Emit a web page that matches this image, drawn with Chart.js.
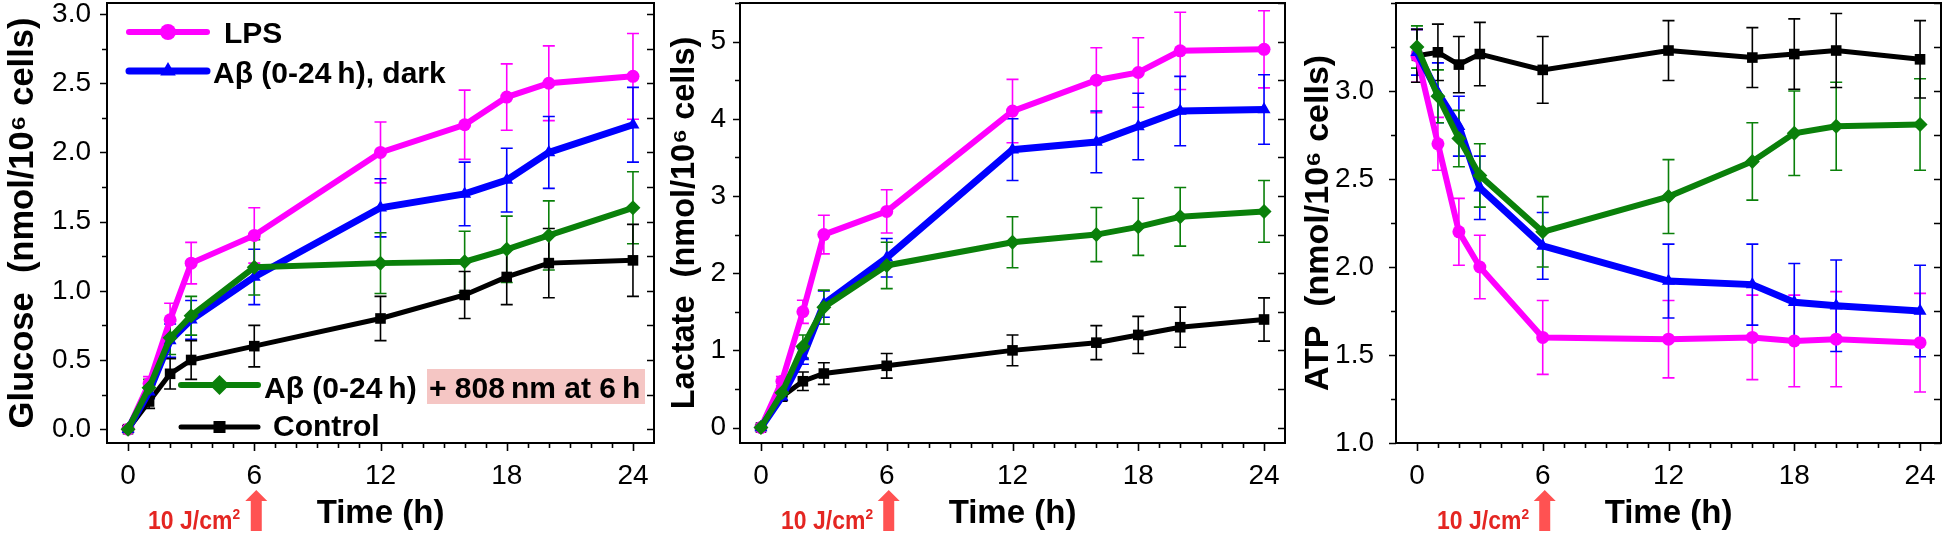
<!DOCTYPE html>
<html><head><meta charset="utf-8">
<script src="https://cdn.jsdelivr.net/npm/chart.js@4.4.1/dist/chart.umd.min.js"></script>
<style>
html,body{margin:0;padding:0;background:#fff;width:1943px;height:534px;overflow:hidden;font-family:'Liberation Sans',Arial,sans-serif;}
#wrap{position:relative;width:1943px;height:534px;}
.cv{position:absolute;top:0;height:534px;}
.cv canvas{display:block;}
.lab{position:absolute;white-space:nowrap;font-weight:bold;font-size:30px;line-height:30px;color:#000;}
.hl{position:absolute;background:rgb(245,198,196);}
.ann{position:absolute;top:507px;white-space:nowrap;font-family:'Liberation Sans',Arial,sans-serif;font-weight:bold;font-size:25px;line-height:26px;color:rgb(228,38,34);transform-origin:100% 50%;}
.ann sup{font-size:15px;vertical-align:10px;line-height:0;}
</style></head>
<body><div id="wrap">
<div class="cv" style="left:0;width:660px"><canvas id="c1" width="660" height="534"></canvas></div>
<div class="cv" style="left:660px;width:640px"><canvas id="c2" width="640" height="534"></canvas></div>
<div class="cv" style="left:1300px;width:643px"><canvas id="c3" width="643" height="534"></canvas></div>
<div class="hl" style="left:427px;top:369px;width:218px;height:35px"></div>
<div class="lab" style="left:224px;top:18px">LPS</div>
<div class="lab" style="left:213px;top:58px">Aβ (0-24&#8201;h), dark</div>
<div class="lab" style="left:264px;top:373px">Aβ (0-24&#8201;h)</div>
<div class="lab" style="left:429px;top:373px">+ 808&#8201;nm at 6&#8201;h</div>
<div class="lab" style="left:273px;top:411px">Control</div>
<div class="ann" id="a1">10 J/cm<sup>2</sup></div>
<div class="ann" id="a2">10 J/cm<sup>2</sup></div>
<div class="ann" id="a3">10 J/cm<sup>2</sup></div>
</div>
<script>
// ---------- data ----------
const hours = [0, 1, 2, 3, 6, 12, 16, 18, 20, 24];
const seriesNames = ['LPS', 'Aβ (0-24 h), dark', 'Aβ (0-24 h) + 808 nm at 6 h', 'Control'];
const xTickValues = [0, 6, 12, 18, 24];

const glucoseLPS      = [0, 0.33, 0.79, 1.2, 1.4, 2.0, 2.2, 2.4, 2.5, 2.55];
const glucoseLPSErr   = [0.02, 0.05, 0.12, 0.15, 0.2, 0.22, 0.25, 0.24, 0.27, 0.31];
const glucoseDark     = [0, 0.27, 0.64, 0.79, 1.1, 1.6, 1.7, 1.8, 2.0, 2.2];
const glucoseDarkErr  = [0.02, 0.05, 0.12, 0.14, 0.2, 0.21, 0.23, 0.23, 0.26, 0.27];
const glucoseNIR      = [0, 0.3, 0.66, 0.82, 1.17, 1.2, 1.21, 1.3, 1.4, 1.6];
const glucoseNIRErr   = [0.02, 0.06, 0.12, 0.14, 0.2, 0.22, 0.22, 0.24, 0.25, 0.26];
const glucoseCtrl     = [0, 0.2, 0.4, 0.5, 0.6, 0.8, 0.97, 1.1, 1.2, 1.22];
const glucoseCtrlErr  = [0.02, 0.05, 0.11, 0.14, 0.15, 0.16, 0.17, 0.2, 0.25, 0.26];
const glucoseTicks      = [0, 0.5, 1, 1.5, 2, 2.5, 3];
const glucoseTickLabels = ['0.0', '0.5', '1.0', '1.5', '2.0', '2.5', '3.0'];

const lactateLPS      = [0, 0.6, 1.5, 2.5, 2.8, 4.1, 4.5, 4.6, 4.88, 4.9];
const lactateLPSErr   = [0.03, 0.06, 0.15, 0.25, 0.28, 0.41, 0.42, 0.45, 0.5, 0.5];
const lactateDark     = [0, 0.4, 0.92, 1.6, 2.2, 3.6, 3.7, 3.9, 4.1, 4.12];
const lactateDarkErr  = [0.03, 0.05, 0.1, 0.17, 0.25, 0.4, 0.4, 0.43, 0.45, 0.45];
const lactateNIR      = [0, 0.45, 1.05, 1.56, 2.1, 2.4, 2.5, 2.6, 2.73, 2.8];
const lactateNIRErr   = [0.03, 0.05, 0.15, 0.22, 0.3, 0.33, 0.35, 0.37, 0.38, 0.4];
const lactateCtrl     = [0, 0.4, 0.6, 0.7, 0.8, 1.0, 1.1, 1.2, 1.3, 1.4];
const lactateCtrlErr  = [0.03, 0.05, 0.12, 0.14, 0.16, 0.2, 0.22, 0.24, 0.26, 0.28];
const lactateTicks      = [0, 1, 2, 3, 4, 5];
const lactateTickLabels = ['0', '1', '2', '3', '4', '5'];

const atpLPS      = [3.2, 2.7, 2.2, 2.0, 1.6, 1.59, 1.6, 1.58, 1.59, 1.57];
const atpLPSErr   = [0.15, 0.15, 0.19, 0.18, 0.21, 0.22, 0.24, 0.26, 0.27, 0.28];
const atpDark     = [3.22, 2.99, 2.8, 2.45, 2.12, 1.92, 1.9, 1.8, 1.78, 1.75];
const atpDarkErr  = [0.13, 0.17, 0.17, 0.18, 0.19, 0.21, 0.23, 0.22, 0.26, 0.26];
const atpNIR      = [3.25, 2.97, 2.73, 2.52, 2.2, 2.4, 2.6, 2.76, 2.8, 2.81];
const atpNIRErr   = [0.12, 0.15, 0.16, 0.18, 0.2, 0.21, 0.22, 0.24, 0.25, 0.26];
const atpCtrl     = [3.2, 3.22, 3.15, 3.21, 3.12, 3.23, 3.19, 3.21, 3.23, 3.18];
const atpCtrlErr  = [0.15, 0.16, 0.16, 0.18, 0.19, 0.17, 0.17, 0.2, 0.21, 0.22];
const atpTicks      = [1, 1.5, 2, 2.5, 3];
const atpTickLabels = ['1.0', '1.5', '2.0', '2.5', '3.0'];

// ---------- styles ----------
const FONT = "'Liberation Sans', Arial, sans-serif";
const seriesStyle = [
  {color: '#ff00ff', width: 6, point: 'circle', radius: 6.5, order: 2},
  {color: '#0000ff', width: 7, point: 'triangle', radius: 7.5, order: 1},
  {color: '#0a800a', width: 6, point: 'rectRot', radius: 7.5, order: 0},
  {color: '#000000', width: 5, point: 'rect', radius: 7.5, order: 3}
];
const annRight = {};

function drawMarker(ctx, type, x, y, r, color) {
  ctx.save(); ctx.fillStyle = color; ctx.beginPath();
  if (type === 'circle') ctx.arc(x, y, r, 0, Math.PI * 2);
  else if (type === 'triangle') { ctx.moveTo(x, y - r); ctx.lineTo(x + r * 0.866, y + r * 0.5); ctx.lineTo(x - r * 0.866, y + r * 0.5); ctx.closePath(); }
  else if (type === 'rectRot') { ctx.moveTo(x, y - r); ctx.lineTo(x + r, y); ctx.lineTo(x, y + r); ctx.lineTo(x - r, y); ctx.closePath(); }
  else { const s = r * 0.7071; ctx.rect(x - s, y - s, 2 * s, 2 * s); }
  ctx.fill(); ctx.restore();
}

function placeAnnotations() {
  Object.keys(annRight).forEach(id => {
    const el = document.getElementById(id);
    el.style.transform = 'none';
    el.style.left = '0px';
    const w = el.getBoundingClientRect().width;
    el.style.left = (annRight[id] - w) + 'px';
    el.style.transform = 'scaleX(' + (92 / w) + ')';
  });
}

const errPlugin = {
  id: 'errbars',
  beforeDatasetsDraw(chart) {
    const ctx = chart.ctx, xs = chart.scales.x, ys = chart.scales.y;
    ctx.save();
    chart.data.datasets.forEach(ds => {
      ctx.strokeStyle = ds.borderColor; ctx.lineWidth = 1.6;
      ds.data.forEach((p, j) => {
        const e = ds.errors[j];
        const px = xs.getPixelForValue(p.x);
        const yt = ys.getPixelForValue(p.y + e), yb = ys.getPixelForValue(p.y - e);
        ctx.beginPath();
        ctx.moveTo(px, yt); ctx.lineTo(px, yb);
        ctx.moveTo(px - 6, yt); ctx.lineTo(px + 6, yt);
        ctx.moveTo(px - 6, yb); ctx.lineTo(px + 6, yb);
        ctx.stroke();
      });
    });
    ctx.restore();
  }
};

const framePlugin = {
  id: 'frame',
  afterDraw(chart) {
    const o = chart.options.plugins.frame;
    const ctx = chart.ctx, a = chart.chartArea, xs = chart.scales.x, ys = chart.scales.y;
    ctx.save();
    ctx.strokeStyle = '#000'; ctx.lineWidth = 2;
    ctx.strokeRect(a.left, a.top, a.right - a.left, a.bottom - a.top);
    ctx.lineWidth = 1.6;
    ctx.beginPath();
    for (let h = 0; h <= 24; h++) {
      const px = Math.round(xs.getPixelForValue(h)) + 0.5;
      const len = (h % 6 === 0) ? 8 : 5;
      ctx.moveTo(px, a.bottom); ctx.lineTo(px, a.bottom + len);
    }
    for (let v = o.leftFrom; v <= ys.max + 1e-9; v += o.leftStep) {
      const py = Math.round(ys.getPixelForValue(v)) + 0.5;
      const major = o.ticks.some(t => Math.abs(t - v) < 1e-6);
      ctx.moveTo(a.left, py); ctx.lineTo(a.left - (major ? 7 : 5), py);
    }
    for (let v = o.leftFrom; v <= ys.max + 1e-9; v += o.rightStep) {
      const py = Math.round(ys.getPixelForValue(v)) + 0.5;
      ctx.moveTo(a.right, py); ctx.lineTo(a.right - 7, py);
    }
    ctx.stroke();
    // red arrow at 6 h
    const ax = xs.getPixelForValue(6) + 2;
    ctx.fillStyle = 'rgb(255,82,82)';
    ctx.beginPath();
    ctx.moveTo(ax, 490); ctx.lineTo(ax + 11, 501); ctx.lineTo(ax + 5.5, 501); ctx.lineTo(ax + 5.5, 531);
    ctx.lineTo(ax - 5.5, 531); ctx.lineTo(ax - 5.5, 501); ctx.lineTo(ax - 11, 501); ctx.closePath();
    ctx.fill();
    // legend symbols (first panel only)
    if (o.legend) {
      const rows = [[0, 129, 207, 32, 8], [1, 129, 207, 71, 9], [2, 181, 258, 385, 10], [3, 181, 258, 427, 8.5]];
      rows.forEach(([i, x0, x1, y, r]) => {
        const s = seriesStyle[i];
        ctx.strokeStyle = s.color; ctx.lineWidth = s.width; ctx.lineCap = 'round';
        ctx.beginPath(); ctx.moveTo(x0, y); ctx.lineTo(x1, y); ctx.stroke();
        drawMarker(ctx, s.point, (x0 + x1) / 2, y, r, s.color);
      });
    }
    ctx.restore();
    annRight[o.annId] = o.offsetX + ax - 16;
  }
};

function makePanel(cfg) {
  const datasets = cfg.series.map((vals, i) => {
    const s = seriesStyle[i];
    return {
      label: seriesNames[i],
      data: hours.map((h, j) => ({x: h, y: vals[j]})),
      errors: cfg.errors[i],
      borderColor: s.color, backgroundColor: s.color,
      borderWidth: s.width, pointStyle: s.point, pointRadius: s.radius,
      pointBorderWidth: 0, pointHoverRadius: s.radius,
      order: s.order, tension: 0, clip: false
    };
  });
  return new Chart(document.getElementById(cfg.id), {
    type: 'line',
    data: {datasets},
    plugins: [errPlugin, framePlugin],
    options: {
      responsive: false, animation: false, events: [],
      layout: {autoPadding: false, padding: {top: 3, right: cfg.padRight, left: 0, bottom: 0}},
      plugins: {
        legend: {display: false}, tooltip: {enabled: false},
        frame: {leftFrom: cfg.ticks[0], leftStep: cfg.leftStep, rightStep: cfg.rightStep, ticks: cfg.ticks,
                legend: cfg.legend, annId: cfg.annId, offsetX: cfg.offsetX}
      },
      scales: {
        x: {
          type: 'linear', min: -1, max: 25,
          afterBuildTicks: s => { s.ticks = xTickValues.map(v => ({value: v})); },
          afterFit: s => { s.height = 91; s.paddingLeft = 0; s.paddingRight = 0; s.paddingTop = 0; s.paddingBottom = 0; },
          grid: {display: false, drawTicks: false, tickLength: 0},
          border: {display: false},
          ticks: {font: {family: FONT, size: 28, lineHeight: 1}, color: '#000', padding: 19, maxRotation: 0,
                  callback: v => String(v)},
          title: {display: true, text: 'Time (h)', color: '#000',
                  font: {family: FONT, size: 33, weight: 'bold', lineHeight: 1}, padding: {top: 0, bottom: 3.5}}
        },
        y: {
          type: 'linear', min: cfg.yMin, max: cfg.yMax,
          afterBuildTicks: s => { s.ticks = cfg.ticks.map(v => ({value: v})); },
          afterFit: s => { s.width = cfg.yWidth; s.paddingTop = 0; s.paddingBottom = 0; s.paddingLeft = 0; s.paddingRight = 0; },
          grid: {display: false, drawTicks: false, tickLength: 0},
          border: {display: false},
          ticks: {font: {family: FONT, size: 28, lineHeight: 1}, color: '#000', padding: cfg.tickPad,
                  callback: v => { const k = cfg.ticks.findIndex(t => Math.abs(t - v) < 1e-9); return k >= 0 ? cfg.tickLabels[k] : ''; }},
          title: {display: true, text: cfg.title, color: '#000',
                  font: {family: FONT, size: cfg.titleSize, weight: 'bold', lineHeight: 1}, padding: {top: cfg.titlePad, bottom: 0}}
        }
      }
    }
  });
}

makePanel({id: 'c1', offsetX: 0, annId: 'a1', legend: true, yWidth: 107, padRight: 6, yMin: -0.1, yMax: 3.08,
  ticks: glucoseTicks, tickLabels: glucoseTickLabels, leftStep: 0.25, rightStep: 0.25, tickPad: 16,
  titleSize: 34.5, titlePad: 6.5,
  title: 'Glucose  (nmol/10⁶ cells)',
  series: [glucoseLPS, glucoseDark, glucoseNIR, glucoseCtrl],
  errors: [glucoseLPSErr, glucoseDarkErr, glucoseNIRErr, glucoseCtrlErr]});
makePanel({id: 'c2', offsetX: 660, annId: 'a2', legend: false, yWidth: 80, padRight: 15, yMin: -0.2, yMax: 5.5,
  ticks: lactateTicks, tickLabels: lactateTickLabels, leftStep: 0.5, rightStep: 0.5, tickPad: 14,
  titleSize: 32.5, titlePad: 8.5,
  title: 'Lactate  (nmol/10⁶ cells)',
  series: [lactateLPS, lactateDark, lactateNIR, lactateCtrl],
  errors: [lactateLPSErr, lactateDarkErr, lactateNIRErr, lactateCtrlErr]});
makePanel({id: 'c3', offsetX: 1300, annId: 'a3', legend: false, yWidth: 96, padRight: 2, yMin: 1.0, yMax: 3.5,
  ticks: atpTicks, tickLabels: atpTickLabels, leftStep: 0.25, rightStep: 0.25, tickPad: 22,
  titleSize: 34, titlePad: 1.5,
  title: 'ATP  (nmol/10⁶ cells)',
  series: [atpLPS, atpDark, atpNIR, atpCtrl],
  errors: [atpLPSErr, atpDarkErr, atpNIRErr, atpCtrlErr]});

placeAnnotations();
if (document.fonts && document.fonts.ready) document.fonts.ready.then(placeAnnotations);
window.addEventListener('load', placeAnnotations);
</script>
</body></html>
